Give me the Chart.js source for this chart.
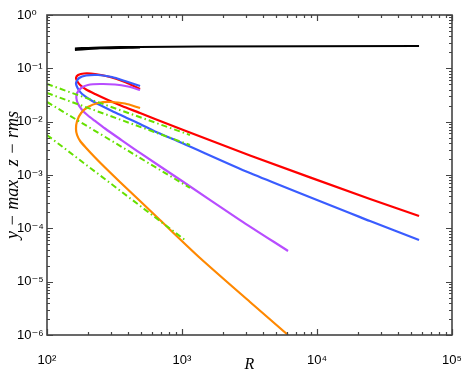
<!DOCTYPE html>
<html><head><meta charset="utf-8">
<script src="https://cdn.jsdelivr.net/npm/chart.js@4.4.1/dist/chart.umd.min.js"></script>
<style>html,body{margin:0;padding:0;background:#fff}canvas{display:block}</style>
</head><body>
<canvas id="c" width="463" height="379"></canvas>
<script>
// ---- data ----
const xTickValues = [1e2, 1e3, 1e4, 1e5];
const yTickValues = [1e-6, 1e-5, 1e-4, 1e-3, 1e-2, 1e-1, 1];

const blackR = [161, 247, 489, 1360, 57000];
const blackY = [0.235, 0.246, 0.251, 0.2565, 0.262];
const blackR2 = [161, 247, 489];
const blackY2 = [0.222, 0.238, 0.248];

const redR = [489, 378, 293, 227, 188, 170, 164, 167, 176, 195, 227, 283, 359, 489, 631, 1000, 3190, 24700, 57000];
const redY = [0.041, 0.0554, 0.0688, 0.0783, 0.080, 0.075, 0.0659, 0.0579, 0.0487, 0.0401, 0.033, 0.0255, 0.0197, 0.01454, 0.0112, 0.00714, 0.00232, 3.55e-4, 1.70e-4];

const blueR = [489, 378, 303, 239, 195, 173, 164, 170, 182, 208, 247, 303, 378, 489, 631, 1000, 3190, 24700, 57000];
const blueY = [0.0466, 0.0579, 0.0688, 0.075, 0.0734, 0.0659, 0.0531, 0.041, 0.033, 0.0261, 0.0205, 0.01585, 0.01224, 0.00904, 0.00654, 0.00398, 0.00109, 1.37e-4, 6.04e-5];

const purpleR = [489, 398, 319, 247, 201, 179, 167, 165, 170, 182, 201, 227, 269, 347, 489, 1000, 2690, 6100];
const purpleY = [0.0392, 0.0456, 0.0498, 0.0508, 0.0487, 0.0428, 0.0345, 0.0278, 0.0214, 0.0166, 0.01305, 0.0103, 0.00745, 0.00473, 0.00259, 7.72e-4, 1.43e-4, 3.76e-5];

const orangeR = [489, 378, 293, 239, 201, 179, 167, 164, 167, 176, 195, 227, 269, 347, 489, 687, 1360, 3190, 6100];
const orangeY = [0.018, 0.0219, 0.0234, 0.0224, 0.0188, 0.01454, 0.0103, 0.00729, 0.00562, 0.00434, 0.00321, 0.00213, 0.00138, 7.39e-4, 3.25e-4, 1.43e-4, 2.78e-5, 4.16e-6, 1e-6];

const greenAR = [100, 1146], greenAY = [0.0508, 0.00562];
const greenBR = [100, 1146], greenBY = [0.0345, 0.00365];
const greenCR = [100, 1146], greenCY = [0.0234, 5.71e-4];
const greenDR = [100, 1052], greenDY = [0.00562, 6.04e-5];

// ---- helpers ----
const pts = (xs, ys) => xs.map((x, i) => ({x: x, y: ys[i]}));
const sup = {'0':'⁰','1':'¹','2':'²','3':'³','4':'⁴','5':'⁵','6':'⁶','7':'⁷','8':'⁸','9':'⁹','-':'⁻'};
const pow10Label = v => '10' + String(Math.round(Math.log10(v))).split('').map(c => sup[c]).join('');

function line(data, color, width, extra) {
  return Object.assign({data: data, borderColor: color, backgroundColor: color, borderWidth: width,
    showLine: true, pointRadius: 0, fill: false, tension: 0.25}, extra || {});
}
const dashG = {borderDash: [6, 3, 1.5, 3], tension: 0};
const GREEN = '#66e000';

const frame = {
  id: 'frame',
  afterDraw(chart) {
    const {ctx, chartArea: a, scales: {x, y}} = chart;
    ctx.save();
    ctx.strokeStyle = '#444';
    ctx.lineWidth = 1.2;
    for (let e = 2; e <= 5; e++) {
      for (let m = 1; m <= 9; m++) {
        const v = m * Math.pow(10, e);
        if (e === 5 && m > 1) continue;
        const px = Math.round(x.getPixelForValue(v)) + 0.5;
        const L = m === 1 ? 6 : 3;
        ctx.beginPath();
        ctx.moveTo(px, a.bottom); ctx.lineTo(px, a.bottom - L);
        ctx.moveTo(px, a.top); ctx.lineTo(px, a.top + L);
        ctx.stroke();
      }
    }
    for (let e = -6; e <= 0; e++) {
      for (let m = 1; m <= 9; m++) {
        if (e === 0 && m > 1) continue;
        const v = m * Math.pow(10, e);
        const py = Math.round(y.getPixelForValue(v)) + 0.5;
        const L = m === 1 ? 6 : 3;
        ctx.beginPath();
        ctx.moveTo(a.left, py); ctx.lineTo(a.left + L, py);
        ctx.moveTo(a.right, py); ctx.lineTo(a.right - L, py);
        ctx.stroke();
      }
    }
    ctx.lineWidth = 1.6;
    ctx.strokeRect(a.left, a.top, a.right - a.left, a.bottom - a.top);
    ctx.restore();
  }
};

new Chart(document.getElementById('c'), {
  type: 'scatter',
  data: {
    datasets: [
      line(pts(greenAR, greenAY), GREEN, 2, dashG),
      line(pts(greenBR, greenBY), GREEN, 2, dashG),
      line(pts(greenCR, greenCY), GREEN, 2, dashG),
      line(pts(greenDR, greenDY), GREEN, 2, dashG),
      line(pts(orangeR, orangeY), '#ff8800', 2.2),
      line(pts(purpleR, purpleY), '#b84dff', 2.2),
      line(pts(blueR, blueY), '#3a5cff', 2.2),
      line(pts(redR, redY), '#ff0000', 2.2),
      line(pts(blackR2, blackY2), '#000000', 2.2),
      line(pts(blackR, blackY), '#000000', 2.2)
    ]
  },
  options: {
    responsive: false,
    animation: false,
    devicePixelRatio: 1,
    layout: {padding: {left: 17, right: 11, top: 15, bottom: 0}},
    plugins: {legend: {display: false}, tooltip: {enabled: false}},
    scales: {
      x: {
        type: 'logarithmic', min: 100, max: 1e5,
        grid: {display: false, drawTicks: false},
        border: {display: false},
        afterBuildTicks: s => { s.ticks = xTickValues.map(v => ({value: v})); },
        afterFit: s => { s.height = 44; s.paddingLeft = 0; s.paddingRight = 0; },
        ticks: {callback: v => pow10Label(v), color: '#000', padding: 18, maxRotation: 0, autoSkip: false,
          font: {family: '"Liberation Sans", "DejaVu Sans", sans-serif', size: 13}},
        title: {display: true, text: 'R', color: '#000', padding: {top: 0, bottom: 5},
          font: {family: '"Liberation Serif", serif', style: 'italic', size: 16}}
      },
      y: {
        type: 'logarithmic', min: 1e-6, max: 1,
        grid: {display: false, drawTicks: false},
        border: {display: false},
        afterBuildTicks: s => { s.ticks = yTickValues.map(v => ({value: v})); },
        afterFit: s => { s.width = 30; s.paddingTop = 0; s.paddingBottom = 0; },
        ticks: {callback: v => pow10Label(v), color: '#000', crossAlign: 'far', autoSkip: false,
          font: {family: '"Liberation Sans", "DejaVu Sans", sans-serif', size: 13}},
        title: {display: true, text: 'y \u2212 max   z \u2212 rms', color: '#000', padding: {top: -15, bottom: 0},
          font: {family: '"Liberation Serif", serif', style: 'italic', size: 18}}
      }
    }
  },
  plugins: [frame]
});
</script>
</body></html>
